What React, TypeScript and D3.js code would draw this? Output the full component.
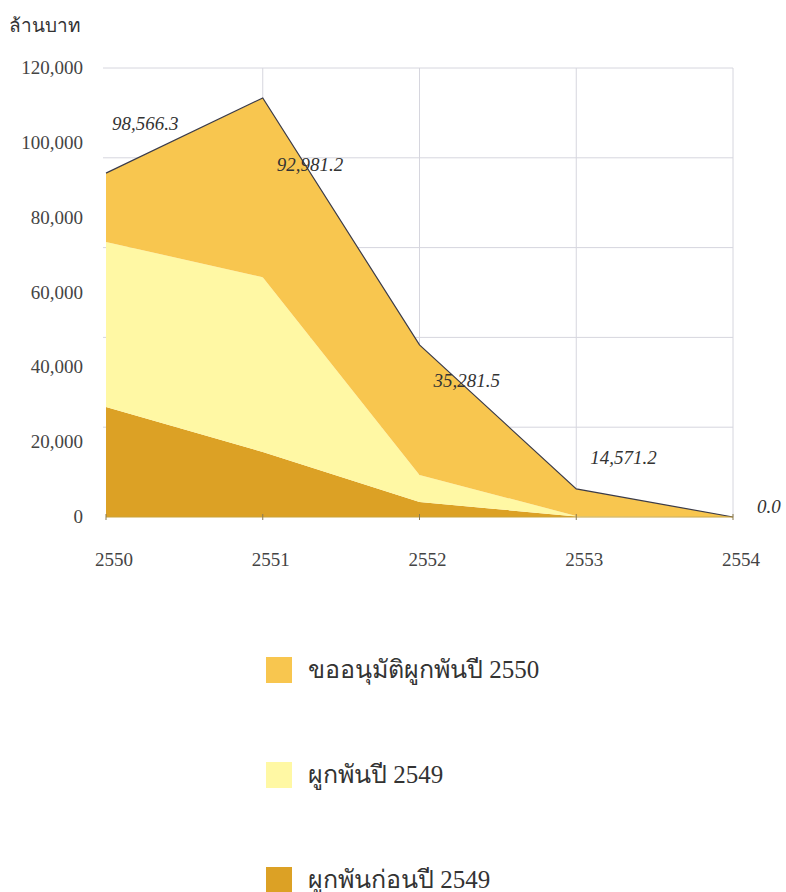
import React from "react";
import * as d3 from "d3";

// Fiscal years on the category axis
const years = ["2550", "2551", "2552", "2553", "2554"];

// Outstanding obligations per year (million baht), one array per series
const committedBefore2549 = [29400, 17400, 4000, 150, 0];
const committed2549 = [44100, 46700, 7200, 150, 0];
const requested2550 = [18400, 47900, 34800, 7200, 0];

// Series order from the bottom of the stack upward
const seriesKeys = ["before2549", "in2549", "req2550"];
const seriesNames = ["ผูกพันก่อนปี 2549", "ผูกพันปี 2549", "ขออนุมัติผูกพันปี 2550"];
const seriesColors = ["#DCA125", "#FFF8A4", "#F8C64F"];

// Legend lists the top series first
const legendOrder = [2, 1, 0];

// Value labels shown beside each year
const yearLabels = ["98,566.3", "92,981.2", "35,281.5", "14,571.2", "0.0"];
const yearLabelValues = [98566.3, 92981.2, 35281.5, 14571.2, 0];

// Axis ticks
const yTicks = [0, 20000, 40000, 60000, 80000, 100000, 120000];
const gridValues = [24000, 48000, 72000, 96000, 120000];

const unitLabel = "ล้านบาท";

const W = 786;
const H = 892;
const plot = { left: 106, right: 733, top: 68, bottom: 517 };
const serif = "'Liberation Serif', 'Times New Roman', 'DejaVu Serif', serif";

export default function App() {
  const x = d3.scalePoint<string>().domain(years).range([plot.left, plot.right]);
  const y = d3.scaleLinear().domain([0, 120000]).range([plot.bottom, plot.top]);
  const step = x.step();

  const rows = years.map((yr, i) => ({
    year: yr,
    before2549: committedBefore2549[i],
    in2549: committed2549[i],
    req2550: requested2550[i],
  }));
  const stacked = d3.stack<any>().keys(seriesKeys)(rows);

  const area = d3
    .area<any>()
    .x((d) => x(d.data.year) as number)
    .y0((d) => y(d[0]))
    .y1((d) => y(d[1]));

  const topLine = d3
    .line<any>()
    .x((d) => x(d.data.year) as number)
    .y((d) => y(d[1]));

  const fmt = d3.format(",");

  // first label sits above the outline, last one tucks next to the axis end
  const last = years.length - 1;
  const labelDy = (i: number) => (i === 0 ? -18 : i === last ? -4 : 2);
  const labelDx = (i: number) => (i === 0 ? -8 : i === last ? 10 : 0);

  return (
    <svg
      width={W}
      height={H}
      viewBox={`0 0 ${W} ${H}`}
      style={{ position: "absolute", left: 0, top: 0, background: "#fff" }}
    >
      <text x={9} y={32} fontFamily={serif} fontSize={19} fill="#333">
        {unitLabel}
      </text>

      {/* gridlines */}
      <g stroke="#d6d6de" strokeWidth={1}>
        {gridValues.map((v) => (
          <line key={"h" + v} x1={plot.left - 3} x2={plot.right} y1={y(v)} y2={y(v)} />
        ))}
        {years.slice(1).map((yr) => (
          <line key={"v" + yr} x1={x(yr)} x2={x(yr)} y1={plot.top} y2={plot.bottom} />
        ))}
      </g>

      {/* stacked areas */}
      {stacked.map((s, i) => (
        <path key={s.key} d={area(s) || ""} fill={seriesColors[i]} stroke="none" />
      ))}

      {/* outline of the stack total */}
      <path
        d={topLine(stacked[stacked.length - 1]) || ""}
        fill="none"
        stroke="#3b3b48"
        strokeWidth={1.2}
      />

      {/* category axis */}
      <line x1={plot.left} x2={plot.right} y1={plot.bottom} y2={plot.bottom} stroke="#c9a23a" strokeWidth={1} />
      <g stroke="#8a7a50" strokeWidth={1}>
        {years.map((yr) => (
          <line key={"t" + yr} x1={x(yr)} x2={x(yr)} y1={plot.bottom - 3} y2={plot.bottom + 3} />
        ))}
      </g>
      {years.map((yr) => (
        <text
          key={"xl" + yr}
          x={(x(yr) as number) + 8}
          y={566}
          textAnchor="middle"
          fontFamily={serif}
          fontSize={19}
          fill="#444"
        >
          {yr}
        </text>
      ))}

      {/* value axis labels */}
      {yTicks.map((v) => (
        <text
          key={"yl" + v}
          x={83}
          y={y(v) + 6}
          textAnchor="end"
          fontFamily={serif}
          fontSize={19}
          fill="#444"
        >
          {fmt(v)}
        </text>
      ))}

      {/* year value labels */}
      {yearLabels.map((lab, i) => (
        <text
          key={"dl" + i}
          x={(x(years[i]) as number) + step * 0.09 + labelDx(i)}
          y={y(yearLabelValues[i]) + labelDy(i)}
          fontFamily={serif}
          fontStyle="italic"
          fontSize={19}
          fill="#333"
        >
          {lab}
        </text>
      ))}

      {/* legend */}
      {legendOrder.map((si, row) => {
        const top = 657 + row * 105;
        return (
          <g key={"lg" + si}>
            <rect x={266} y={top} width={26} height={26} fill={seriesColors[si]} />
            <text x={308} y={top + 21} fontFamily={serif} fontSize={25} fill="#333">
              {seriesNames[si]}
            </text>
          </g>
        );
      })}
    </svg>
  );
}
